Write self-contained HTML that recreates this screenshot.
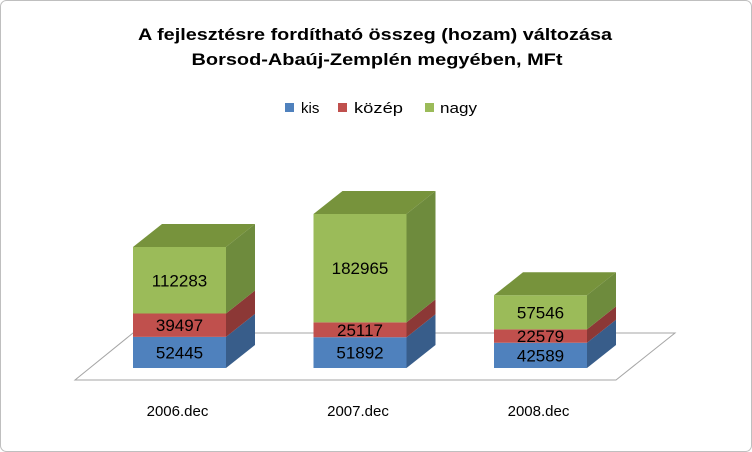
<!DOCTYPE html>
<html><head><meta charset="utf-8"><style>
body{margin:0;background:#fff;}
svg{display:block;font-family:"Liberation Sans",sans-serif;}
</style></head><body>
<svg width="752" height="452" viewBox="0 0 752 452">
<rect x="0.5" y="0.5" width="751" height="451" rx="6" fill="#fff" stroke="#bfbfbf"/>
<text x="375" y="40" text-anchor="middle" font-weight="bold" font-size="17" textLength="474" lengthAdjust="spacingAndGlyphs">A fejlesztésre fordítható összeg (hozam) változása</text>
<text x="377" y="65" text-anchor="middle" font-weight="bold" font-size="17" textLength="371" lengthAdjust="spacingAndGlyphs">Borsod-Abaúj-Zemplén megyében, MFt</text>
<g>
<rect x="285" y="103" width="9" height="9" fill="#4F81BD"/>
<text x="301" y="113" font-size="15">kis</text>
<rect x="338" y="103" width="9" height="9" fill="#C0504D"/>
<text x="354" y="113" font-size="15" textLength="49" lengthAdjust="spacingAndGlyphs">közép</text>
<rect x="425" y="103" width="9" height="9" fill="#9BBB59"/>
<text x="440" y="113" font-size="15" textLength="37" lengthAdjust="spacingAndGlyphs">nagy</text>
</g>
<polygon points="75,380 616,380 675,333 133,333" fill="none" stroke="#a6a6a6" stroke-width="1"/>
<g id="bars"></g>
</svg>
<script>
const categories = ["2006.dec","2007.dec","2008.dec"];
const kis = [52445, 51892, 42589];
const kozep = [39497, 25117, 22579];
const nagy = [112283, 182965, 57546];
const seriesNames = ["kis","kozep","nagy"];
const NS = "http://www.w3.org/2000/svg";
const baseY = 368, scaleK = 121/204225, barW = 93, dx = 29, dy = 23;
function xPos(i){ return 133 + i*180.5; }
function yPos(v){ return baseY - v*scaleK; }
const cols = [["#4F81BD","#385D8A","#4A76AE"],["#C0504D","#8C3836","#A8423F"],["#9BBB59","#6E8B3D","#77933C"]];
const g = document.getElementById("bars");
function poly(pts, fill, name){
  const p = document.createElementNS(NS,"polygon");
  p.setAttribute("points", pts.map(a=>a.join(",")).join(" "));
  p.setAttribute("fill", fill);
  
  
  g.appendChild(p);
}
function txt(x,y,s,size,name){
  const t = document.createElementNS(NS,"text");
  t.setAttribute("x",x); t.setAttribute("y",y);
  t.setAttribute("text-anchor","middle");
  t.setAttribute("font-size",size);
  t.textContent = s;
  
  
  g.appendChild(t);
}
const data = [kis, kozep, nagy];
categories.forEach((c,i)=>{
  const x0 = xPos(i), x1 = x0 + barW;
  let cum = 0;
  data.forEach((arr,s)=>{
    const yb = yPos(cum), yt = yPos(cum+arr[i]);
    cum += arr[i];
    poly([[x0,yb],[x1,yb],[x1,yt],[x0,yt]], cols[s][0], "bar-"+seriesNames[s]+"-"+c);
    poly([[x1,yb],[x1+dx,yb-dy],[x1+dx,yt-dy],[x1,yt]], cols[s][1], "bar-side-"+seriesNames[s]+"-"+c);
    txt((x0+x1)/2, (yb+yt)/2+6, String(arr[i]), 17, "value-label-"+seriesNames[s]+"-"+c);
  });
  const yt = yPos(cum);
  poly([[x0,yt],[x1,yt],[x1+dx,yt-dy],[x0+dx,yt-dy]], cols[2][2], "bar-top-"+c);
  txt(x0+barW/2-2, 416, c, 15, "x-axis-label-"+c);
});
</script>
</body></html>
